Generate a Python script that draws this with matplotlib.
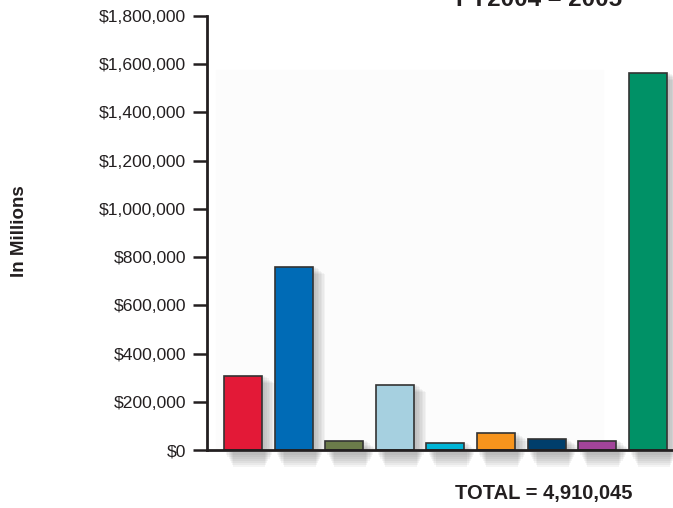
import numpy as np
import matplotlib.pyplot as plt
from matplotlib.ticker import FuncFormatter

# values (in millions of dollars)
values = [307000, 759000, 37000, 270000, 29000, 69000, 44000, 37000, 1565000]
colors = ['#E31937', '#006BB6', '#6B7B4A', '#A6D0E0', '#00B5D6',
          '#F7941D', '#003E6B', '#A2449A', '#009166']
title = "FY2004 \u2013 2005"
total_text = "TOTAL = 4,910,045"
ylabel = "In Millions"

plt.rcParams['font.family'] = ['Liberation Sans', 'DejaVu Sans']

fig = plt.figure(figsize=(6.73, 5.08), dpi=100)
ax = fig.add_axes([207 / 673, 58 / 508, 466 / 673, 434 / 508])

x = np.arange(len(values))
w = 0.75

# faint backdrop panel
ax.axhspan(0, 1.575e6, xmin=0.02, xmax=0.85, color='#fcfcfc', zorder=0)

# soft drop shadows (stacked translucent layers)
for i, v in enumerate(values):
    for k in range(7):
        s = 0.03 * k
        ax.bar(x[i] + 0.07 + s / 2, v - 5000 * k, width=w + s, bottom=0,
               color='#444444', alpha=0.05, linewidth=0, zorder=1)
        # smudge below the baseline
        ax.bar(x[i] + 0.12, -(12000 + 8000 * k), width=w + 0.15 - s * 1.5,
               bottom=-10000, color='#444444', alpha=0.06, linewidth=0,
               zorder=1, clip_on=False)

ax.bar(x, values, width=w, color=colors, edgecolor='#333333', linewidth=1.2,
       zorder=3)

ax.set_xlim(-0.711, 8.498)
ax.set_ylim(0, 1800000)
ax.set_yticks(np.arange(0, 1800001, 200000))
ax.yaxis.set_major_formatter(FuncFormatter(lambda v, p: "${:,.0f}".format(v)))
ax.set_xticks([])
ax.tick_params(axis='y', length=10, width=1.8, color='#231f20', labelsize=12.6,
               pad=5, labelcolor='#231f20')
for s in ['top', 'right']:
    ax.spines[s].set_visible(False)
for s in ['left', 'bottom']:
    ax.spines[s].set_linewidth(2)
    ax.spines[s].set_color('#231f20')
ax.spines['bottom'].set_zorder(4)

fig.text(20 / 673, 1 - 231 / 508, ylabel, rotation=90, ha='center',
         va='center', fontsize=13.5, fontweight='bold', color='#231f20')
fig.text(544 / 673, 1 - 493 / 508, total_text, ha='center', va='center',
         fontsize=14.5, fontweight='bold', color='#231f20')
fig.text(539 / 673, 1 - 6 / 508, title, ha='center', va='baseline',
         fontsize=17.5, fontweight='bold', color='#231f20')

fig.savefig('out.png', dpi=100)
